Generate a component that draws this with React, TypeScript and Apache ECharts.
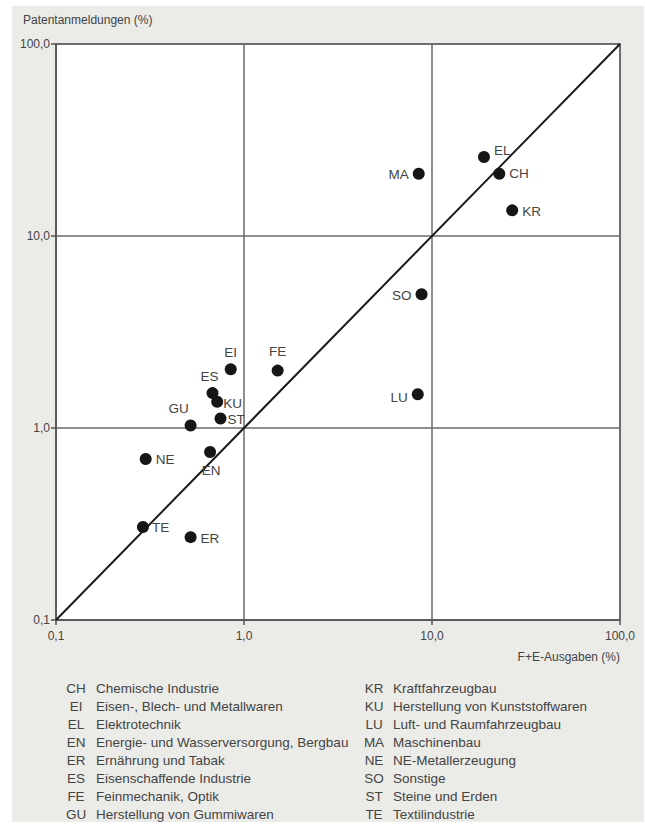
import React, { useEffect, useRef } from "react";
import * as echarts from "echarts";

const codes = ["CH", "EI", "EL", "EN", "ER", "ES", "FE", "GU", "KR", "KU", "LU", "MA", "NE", "SO", "ST", "TE"];
const names = [
  "Chemische Industrie",
  "Eisen-, Blech- und Metallwaren",
  "Elektrotechnik",
  "Energie- und Wasserversorgung, Bergbau",
  "Ernährung und Tabak",
  "Eisenschaffende Industrie",
  "Feinmechanik, Optik",
  "Herstellung von Gummiwaren",
  "Kraftfahrzeugbau",
  "Herstellung von Kunststoffwaren",
  "Luft- und Raumfahrzeugbau",
  "Maschinenbau",
  "NE-Metallerzeugung",
  "Sonstige",
  "Steine und Erden",
  "Textilindustrie",
];
// F+E-Ausgaben (%)
const rdShare = [22.8, 0.85, 18.9, 0.66, 0.52, 0.68, 1.51, 0.52, 26.7, 0.72, 8.4, 8.5, 0.3, 8.8, 0.75, 0.29];
// Patentanmeldungen (%)
const patentShare = [21.1, 2.02, 25.8, 0.75, 0.27, 1.52, 1.99, 1.03, 13.6, 1.37, 1.5, 21.1, 0.69, 4.97, 1.12, 0.305];
const tickValues = [0.1, 1, 10, 100];
const tickLabels = ["0,1", "1,0", "10,0", "100,0"];

// label placement per code (style only)
const labelPlacement: Record<string, { position: string; offset: number[] }> = {
  CH: { position: "right", offset: [0, 0] },
  EI: { position: "top", offset: [0, 0] },
  EL: { position: "right", offset: [0, -6] },
  EN: { position: "bottom", offset: [1, 2] },
  ER: { position: "right", offset: [0, 1] },
  ES: { position: "top", offset: [-3, 0] },
  FE: { position: "top", offset: [0, -2] },
  GU: { position: "top", offset: [-12, 0] },
  KR: { position: "right", offset: [0, 1] },
  KU: { position: "right", offset: [-4, 2] },
  LU: { position: "left", offset: [0, 3] },
  MA: { position: "left", offset: [0, 1] },
  NE: { position: "right", offset: [0, 1] },
  SO: { position: "left", offset: [0, 1] },
  ST: { position: "right", offset: [-3, 1] },
  TE: { position: "right", offset: [-1, 0] },
};

const FONT = "'Liberation Sans', Arial, Helvetica, sans-serif";
const TXT = "#444";

export default function App() {
  const ref = useRef<HTMLDivElement>(null);
  useEffect(() => {
    if (!ref.current) return;
    const chart = echarts.init(ref.current, null, { renderer: "svg" });
    const fmt = (v: number) => {
      const i = tickValues.findIndex((t) => Math.abs(t - v) < 1e-9);
      return i >= 0 ? tickLabels[i] : "";
    };
    const legendGraphics: any[] = [];
    const half = codes.length / 2;
    codes.forEach((c, i) => {
      const col = i < half ? 0 : 1;
      const row = i % half;
      const y = 688 + row * 18;
      const codeX = col === 0 ? 76 : 374;
      const nameX = col === 0 ? 96 : 393;
      legendGraphics.push({
        type: "text",
        x: codeX,
        y,
        style: { text: c, fill: TXT, font: `13.5px ${FONT}`, textAlign: "center", textVerticalAlign: "middle" },
      });
      legendGraphics.push({
        type: "text",
        x: nameX,
        y,
        style: { text: names[i], fill: TXT, font: `13.5px ${FONT}`, textAlign: "left", textVerticalAlign: "middle" },
      });
    });
    chart.setOption({
      animation: false,
      backgroundColor: "transparent",
      grid: {
        left: 56,
        top: 44,
        width: 564,
        height: 576,
        show: true,
        backgroundColor: "#ffffff",
        borderColor: "#555",
        borderWidth: 1.5,
      },
      xAxis: {
        type: "log",
        logBase: 10,
        min: 0.1,
        max: 100,
        axisLine: { show: true, lineStyle: { color: "#555", width: 1.5 } },
        axisTick: { show: true, length: 5, inside: false, lineStyle: { color: "#555", width: 1.5 } },
        minorTick: { show: false },
        axisLabel: { formatter: fmt, color: TXT, fontSize: 12, fontFamily: FONT, margin: 10 },
        splitLine: { show: true, lineStyle: { color: "#6a6a6a", width: 1.5 } },
      },
      yAxis: {
        type: "log",
        logBase: 10,
        min: 0.1,
        max: 100,
        axisLine: { show: true, lineStyle: { color: "#555", width: 1.5 } },
        axisTick: { show: true, length: 5, inside: false, lineStyle: { color: "#555", width: 1.5 } },
        minorTick: { show: false },
        axisLabel: { formatter: fmt, color: TXT, fontSize: 12, fontFamily: FONT, margin: 6 },
        splitLine: { show: true, lineStyle: { color: "#6a6a6a", width: 1.5 } },
      },
      graphic: [
        {
          type: "text",
          x: 23,
          y: 20,
          style: { text: "Patentanmeldungen (%)", fill: TXT, font: `12px ${FONT}`, textVerticalAlign: "middle" },
        },
        {
          type: "text",
          x: 620,
          y: 657,
          style: { text: "F+E-Ausgaben (%)", fill: TXT, font: `12px ${FONT}`, textAlign: "right", textVerticalAlign: "middle" },
        },
        ...legendGraphics,
      ],
      series: [
        {
          type: "line",
          data: [
            [0.1, 0.1],
            [100, 100],
          ],
          symbol: "none",
          lineStyle: { color: "#1a1a1a", width: 2 },
          silent: true,
          z: 2,
        },
        {
          type: "scatter",
          symbol: "circle",
          symbolSize: 12,
          itemStyle: { color: "#161616", opacity: 1 },
          z: 3,
          data: codes.map((c, i) => ({
            name: c,
            value: [rdShare[i], patentShare[i]],
            label: {
              show: true,
              formatter: c,
              position: labelPlacement[c].position,
              offset: labelPlacement[c].offset,
              distance: 4,
              color: TXT,
              fontSize: 13.5,
              fontFamily: FONT,
            },
          })),
        },
      ],
    });
    return () => chart.dispose();
  }, []);
  return (
    <div style={{ position: "fixed", left: 0, top: 0, width: 645, height: 824, background: "#fff" }}>
      <div style={{ position: "absolute", left: 12, top: 6, width: 632, height: 816, background: "#ebebe8" }} />
      <div ref={ref} style={{ position: "absolute", left: 0, top: 0, width: 645, height: 824 }} />
    </div>
  );
}
